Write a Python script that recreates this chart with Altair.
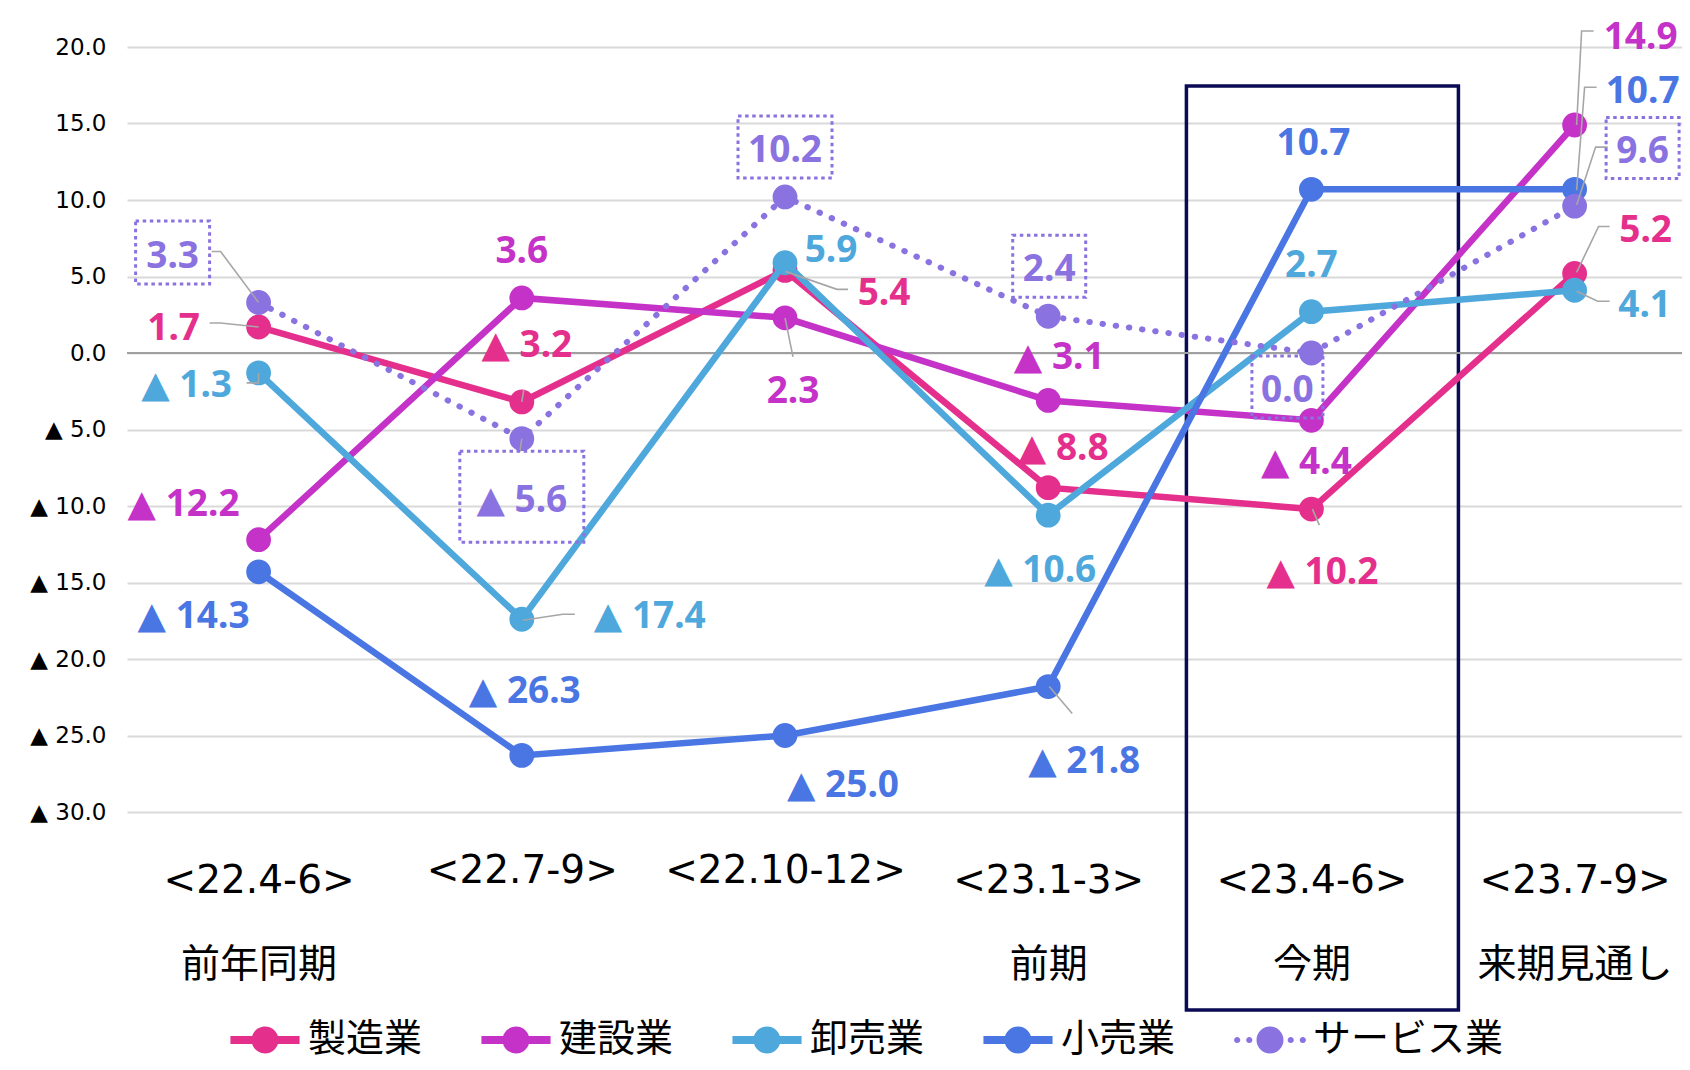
import json
import altair as alt
import pandas as pd

# ---------------- data ----------------
PERIODS = ["<22.4-6>", "<22.7-9>", "<22.10-12>", "<23.1-3>", "<23.4-6>", "<23.7-9>"]
PERIOD_NOTES = ["前年同期", "", "", "前期", "今期", "来期見通し"]
SERIES = ["製造業", "建設業", "卸売業", "小売業", "サービス業"]

MANUFACTURING = [1.7, -3.2, 5.4, -8.8, -10.2, 5.2]
CONSTRUCTION = [-12.2, 3.6, 2.3, -3.1, -4.4, 14.9]
WHOLESALE = [-1.3, -17.4, 5.9, -10.6, 2.7, 4.1]
RETAIL = [-14.3, -26.3, -25.0, -21.8, 10.7, 10.7]
SERVICES = [3.3, -5.6, 10.2, 2.4, 0.0, 9.6]
VALUES = [MANUFACTURING, CONSTRUCTION, WHOLESALE, RETAIL, SERVICES]
Y_TICKS = [-30, -25, -20, -15, -10, -5, 0, 5, 10, 15, 20]
HIGHLIGHT_IDX = 4

# ---------------- styles ----------------
COLORS = ["#E4308C", "#C532C8", "#4FA8DC", "#4A76E4", "#8A72E0"]
DOTTED = "サービス業"
W, H = 1555, 765
X_DOM = [-0.5, 5.408]
Y_DOM = [-30, 20]
STEP = W / (X_DOM[1] - X_DOM[0])
PXU = H / (Y_DOM[1] - Y_DOM[0])
NUM_FONT = "Noto Sans, DejaVu Sans"
AXIS_FONT = "DejaVu Sans, Noto Sans CJK JP"
CJK_FONT = "Noto Sans CJK JP"
LABEL_DY_ADJ = 4  # compensates the renderer's 'middle' baseline

# label offsets (px, from the point centre)
LABEL_OFFSETS = {
    "製造業": [(-85, -2), (5, -60), (99, 20), (15, -43), (11, 60), (71, -46)],
    "建設業": [(-75, -39), (0, -50), (8, 70), (11, -46), (-5, 39), (66, -91)],
    "卸売業": [(-72, 9), (128, -6), (46, -16), (-8, 52), (0, -50), (70, 12)],
    "小売業": [(-65, 41), (3, -67), (58, 46), (36, 71), (2, -49), (68, -101)],
    "サービス業": [(-86, -50), (0, 58), (0, -50), (1, -50), (-24, 34), (68, -58)],
}
BOX_SIZES = [(74, 63), (124, 91), (94, 62), (73, 62), (71, 62), (73, 61)]
LEADERS = [
    ("サービス業", 0, [(-47, -51), (-38, -51), (0, 0)]),
    ("製造業", 0, [(-49, -4), (-38, -4), (0, 0)]),
    ("卸売業", 0, [(-12, 10), (0, 10), (0, 0)]),
    ("製造業", 1, [(2, -12), (0, 0)]),
    ("サービス業", 1, [(0, 0), (-2, 13)]),
    ("卸売業", 1, [(1, 1), (41, -5), (53, -5)]),
    ("製造業", 2, [(0, 1), (52, 19), (63, 19)]),
    ("建設業", 2, [(0, 0), (8, 39)]),
    ("小売業", 3, [(1, 0), (24, 27)]),
    ("製造業", 4, [(1, 0), (8, 16)]),
    ("建設業", 5, [(2, 0), (7, -94), (19, -94)]),
    ("小売業", 5, [(2, 1), (10, -102), (22, -102)]),
    ("サービス業", 5, [(2, -1), (21, -59), (33, -59)]),
    ("製造業", 5, [(2, -1), (24, -47), (35, -47)]),
    ("卸売業", 5, [(2, 1), (23, 11), (35, 11)]),
]

# legend symbols: line + marker (custom paths; 1 unit = sqrt(symbolSize)/2 px)
def _circle(cx, r):
    return f"M{cx - r},0A{r},{r},0,1,1,{cx + r},0A{r},{r},0,1,1,{cx - r},0Z"
SOLID_SYM = "M-1.6,-0.185H1.6V0.185H-1.6Z " + _circle(0, 0.625)
DOTTED_SYM = " ".join([_circle(-1.52, 0.144), _circle(-0.96, 0.144),
                       _circle(0.96, 0.144), _circle(1.52, 0.144), _circle(0, 0.625)])
SHAPES = [DOTTED_SYM if s == DOTTED else SOLID_SYM for s in SERIES]
SYM_SIZE = 1866  # sqrt = 43.2 px layout box; path spans 69 px
SYM_OVERHANG = 13

# ---------------- tables ----------------
rows, lrows, brows = [], [], []
for s, vals in zip(SERIES, VALUES):
    for i, v in enumerate(vals):
        rows.append({"series": s, "idx": i, "value": v})
        dx, dy = LABEL_OFFSETS[s][i]
        txt = ("▲ " + f"{abs(v):.1f}") if v < 0 else f"{v:.1f}"
        lx = i + dx / STEP
        ly = v - (dy + LABEL_DY_ADJ) / PXU
        lrows.append({"series": s, "idx": i, "lx": lx, "ly": ly, "text": txt})
        if s == DOTTED:
            bw, bh = BOX_SIZES[i]
            by = v - dy / PXU
            brows.append({"x": lx - bw / 2 / STEP, "x2": lx + bw / 2 / STEP,
                          "y": by + bh / 2 / PXU, "y2": by - bh / 2 / PXU})
df = pd.DataFrame(rows)
ldf = pd.DataFrame(lrows)
bdf = pd.DataFrame(brows)

leader_rows = []
for k, (s, i, pts) in enumerate(LEADERS):
    v = VALUES[SERIES.index(s)][i]
    for j, (dx, dy) in enumerate(pts):
        leader_rows.append({"lid": k, "seq": j, "x": i + dx / STEP, "y": v - dy / PXU})
leader_df = pd.DataFrame(leader_rows)

# ---------------- scales / axes ----------------
xs = alt.Scale(domain=X_DOM, nice=False, zero=False)
ys = alt.Scale(domain=Y_DOM, nice=False, zero=False)

label_arr = "[" + ",".join(
    json.dumps([p, n], ensure_ascii=False) if n else json.dumps(p, ensure_ascii=False)
    for p, n in zip(PERIODS, PERIOD_NOTES)) + "]"
single_line = " || ".join(f"datum.value == {i}" for i, n in enumerate(PERIOD_NOTES) if not n)

x_axis = alt.Axis(values=list(range(len(PERIODS))), labelExpr=f"{label_arr}[datum.value]",
                  grid=False, domain=False, ticks=False,
                  labelPadding={"condition": {"test": single_line, "value": 39}, "value": 49},
                  labelFont=AXIS_FONT, labelFontSize=39, labelLineHeight=84,
                  labelBaseline="top", labelAlign="center", labelColor="#000000",
                  labelFlush=False, labelOverlap=False, labelLimit=600, title=None)
y_axis = alt.Axis(values=Y_TICKS,
                  labelExpr="datum.value < 0 ? '▲ ' + format(-datum.value, '.1f') : format(datum.value, '.1f')",
                  grid=True, gridColor="#D9D9D9", gridWidth=2, domain=False, ticks=False,
                  labelPadding=21, labelFont=AXIS_FONT, labelFontSize=23,
                  labelColor="#000000", labelOverlap=False, title=None)

X = lambda f: alt.X(f, scale=xs, axis=x_axis)
Y = lambda f: alt.Y(f, scale=ys, axis=y_axis)

layers = []

# highlight box around 今期
hl = pd.DataFrame({"x": [HIGHLIGHT_IDX - 125 / STEP], "x2": [HIGHLIGHT_IDX + 147 / STEP]})
layers.append(alt.Chart(hl).mark_rect(filled=False, color="#0B0B55", strokeWidth=3.5).encode(
    x=X("x:Q"), x2="x2:Q", y=alt.value(39), y2=alt.value(963)))

# zero line
layers.append(alt.Chart(hl).mark_rule(color="#A0A0A0", strokeWidth=2).encode(y=alt.datum(0)))

# series
for s, c in zip(SERIES, COLORS):
    sub = alt.Chart(df).transform_filter(alt.datum.series == s)
    if s == DOTTED:
        line = sub.mark_line(color=c, strokeWidth=6, strokeDash=[0.5, 12.8], strokeCap="round")
    else:
        line = sub.mark_line(color=c, strokeWidth=6.5)
    layers.append(line.encode(x=X("idx:Q"), y=Y("value:Q")))
    layers.append(sub.mark_circle(color=c, size=616, opacity=1).encode(x=X("idx:Q"), y=Y("value:Q")))

# leader lines
layers.append(alt.Chart(leader_df).mark_line(color="#A6A6A6", strokeWidth=1.6).encode(
    x=X("x:Q"), y=Y("y:Q"), detail="lid:N", order="seq:Q"))

# dotted boxes round the service-industry labels
layers.append(alt.Chart(bdf).mark_rect(filled=False, color=COLORS[SERIES.index(DOTTED)],
                                       strokeWidth=3, strokeDash=[3.5, 3.6]).encode(
    x=X("x:Q"), x2="x2:Q", y=Y("y:Q"), y2="y2:Q"))

# data labels
for s, c in zip(SERIES, COLORS):
    layers.append(alt.Chart(ldf).transform_filter(alt.datum.series == s).mark_text(
        font=NUM_FONT, fontSize=37, fontWeight="bold", color=c,
        align="center", baseline="middle").encode(x=X("lx:Q"), y=Y("ly:Q"), text="text:N"))

# legend carrier (no marks drawn)
legend_layer = alt.Chart(pd.DataFrame({"series": SERIES})).transform_filter("false").mark_point(
    filled=True, opacity=1).encode(
    color=alt.Color("series:N", scale=alt.Scale(domain=SERIES, range=COLORS), title=None),
    shape=alt.Shape("series:N", scale=alt.Scale(domain=SERIES, range=SHAPES), title=None),
)
layers.append(legend_layer)

chart = alt.layer(*layers).properties(
    width=W, height=H,
    autosize=alt.AutoSizeParams(type="none"),
    padding={"left": 119, "top": 39, "right": 0, "bottom": 250},
).configure_view(strokeWidth=0).configure_legend(
    orient="none", legendX=103 + SYM_OVERHANG, legendY=971, direction="horizontal", columns=5,
    symbolSize=SYM_SIZE, symbolStrokeWidth=0, symbolOpacity=1,
    labelFont=CJK_FONT, labelFontSize=38, labelColor="#000000", labelOffset=8 + SYM_OVERHANG,
    labelLimit=0, columnPadding=58, padding=0,
)

chart.save("out.html", embed_options={"renderer": "svg", "actions": False})
